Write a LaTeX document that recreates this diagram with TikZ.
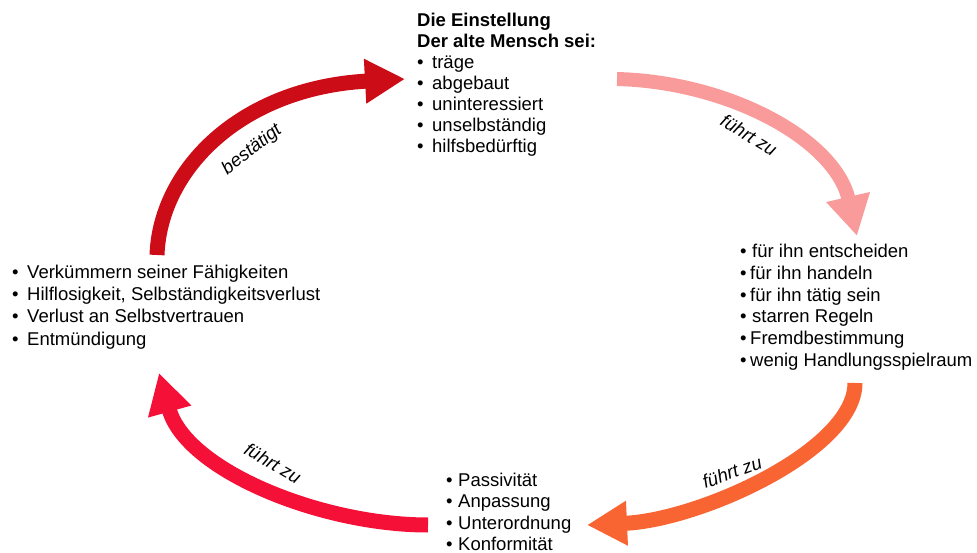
\documentclass[tikz,border=0pt]{standalone}
\usepackage{fontspec}
\setmainfont{Liberation Sans}
\usetikzlibrary{arrows.meta}
\definecolor{arrA}{RGB}{204,12,22}
\definecolor{arrB}{RGB}{250,155,155}
\definecolor{arrC}{RGB}{248,100,50}
\definecolor{arrD}{RGB}{245,16,56}
\newcommand{\bul}[1]{\makebox[#1][l]{\textbullet}}
\begin{document}
\begin{tikzpicture}[x=1pt,y=-1pt,
  txt/.style={inner sep=0pt, anchor=base west, font=\fontsize{18.5}{21.6}\selectfont},
  btxt/.style={txt, font=\fontsize{18.5}{21.6}\selectfont\bfseries},
  lbl/.style={inner sep=0pt, anchor=center, font=\fontsize{18.5}{21.6}\selectfont\itshape},
  bigarrow/.style={line width=15pt, -{Triangle[length=40pt,width=42pt]}}]
\useasboundingbox (0,0) rectangle (977,553);
% top block
\node[btxt] (t1) at (417,27) {Die Einstellung};
\node[btxt] (t2) at (417,48) {Der alte Mensch sei:};
\node[txt] (t3) at (417,69) {\bul{15pt}träge};
\node[txt] (t4) at (417,90) {\bul{15pt}abgebaut};
\node[txt] (t5) at (417,111) {\bul{15pt}uninteressiert};
\node[txt] (t6) at (417,132) {\bul{15pt}unselbständig};
\node[txt] (t7) at (417,153) {\bul{15pt}hilfsbedürftig};
% right block
\node[txt] (r1) at (740,258) {\bul{12pt}für ihn entscheiden};
\node[txt] (r2) at (740,279.6) {\bul{10pt}für ihn handeln};
\node[txt] (r3) at (740,301.2) {\bul{10pt}für ihn tätig sein};
\node[txt] (r4) at (740,322.8) {\bul{12pt}starren Regeln};
\node[txt] (r5) at (740,344.4) {\bul{10pt}Fremdbestimmung};
\node[txt] (r6) at (740,366) {\bul{10pt}wenig Handlungsspielraum};
% bottom block
\node[txt] (b1) at (446,486) {\bul{12pt}Passivität};
\node[txt] (b2) at (446,507.5) {\bul{12pt}Anpassung};
\node[txt] (b3) at (446,529) {\bul{12pt}Unterordnung};
\node[txt] (b4) at (446,550.5) {\bul{12pt}Konformität};
% left block
\node[txt] (l1) at (12,279) {\bul{15pt}Verkümmern seiner Fähigkeiten};
\node[txt] (l2) at (12,301) {\bul{15pt}Hilflosigkeit, Selbständigkeitsverlust};
\node[txt] (l3) at (12,323) {\bul{15pt}Verlust an Selbstvertrauen};
\node[txt] (l4) at (12,345) {\bul{15pt}Entmündigung};
% arrow end points
\coordinate (a1s) at (157,255);
\coordinate (a1e) at (405,79);
\coordinate (a2s) at (617,79);
\coordinate (a2e) at (857,236);
\coordinate (a3s) at (855,383);
\coordinate (a3e) at (587,525);
\coordinate (a4s) at (428,525);
\coordinate (a4e) at (159,373);
% arrows
\draw[bigarrow, arrA] (a1s) .. controls (160,170) and (240,88) .. (a1e);
\draw[bigarrow, arrB, line width=14pt] (a2s) .. controls (730,82) and (835,140) .. (a2e);
\draw[bigarrow, arrC] (a3s) .. controls (855,450) and (700,520) .. (a3e);
\draw[bigarrow, arrD] (a4s) .. controls (320,525) and (186,470) .. (a4e);
% labels
\node[lbl, rotate=38] (lab1) at (252,150) {bestätigt};
\node[lbl, rotate=-31] (lab2) at (749,135) {führt zu};
\node[lbl, rotate=20] (lab3) at (732,472) {führt zu};
\node[lbl, rotate=-30] (lab4) at (273,463) {führt zu};
\end{tikzpicture}
\end{document}
